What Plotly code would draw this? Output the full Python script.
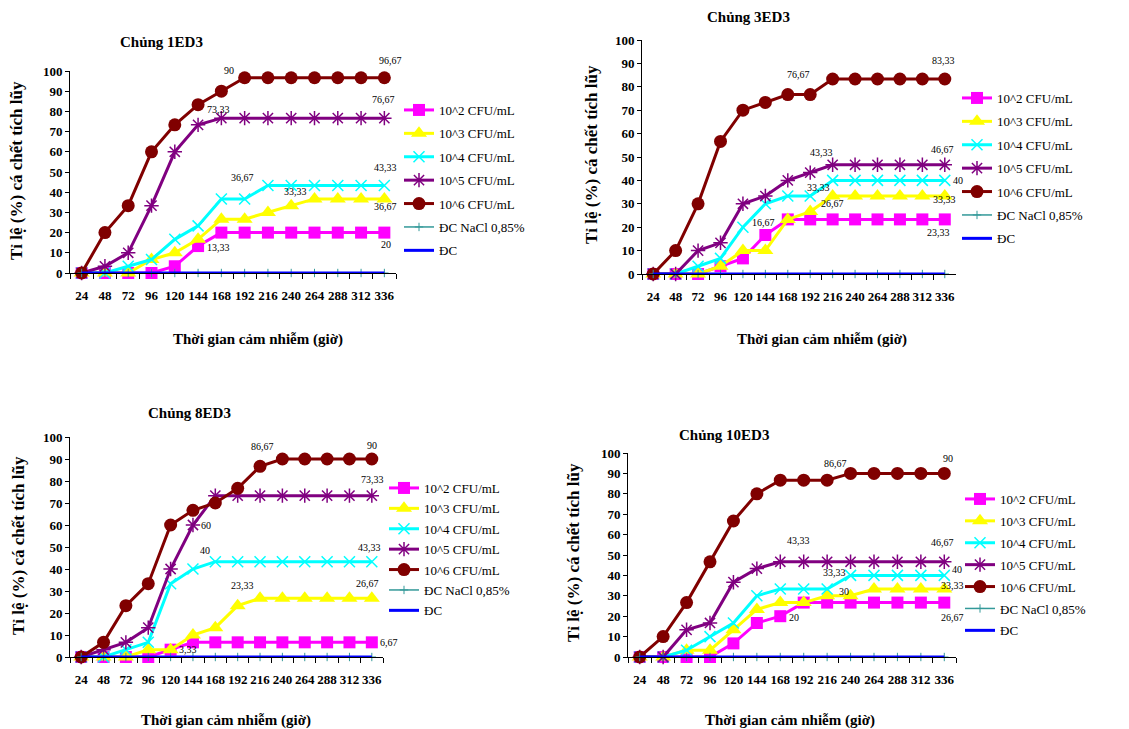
import plotly.graph_objects as go

# ---------------- data ----------------
hours = [24, 48, 72, 96, 120, 144, 168, 192, 216, 240, 264, 288, 312, 336]
x_labels = [str(h) for h in hours]

series_names = ["10^2 CFU/mL", "10^3 CFU/mL", "10^4 CFU/mL", "10^5 CFU/mL",
                "10^6 CFU/mL", "ĐC NaCl 0,85%", "ĐC"]

# Chủng 1ED3
s1_e2 = [0, 0, 0, 0, 3.33, 13.33, 20, 20, 20, 20, 20, 20, 20, 20]
s1_e3 = [0, 0, 0, 6.67, 10, 16.67, 26.67, 26.67, 30, 33.33, 36.67, 36.67, 36.67, 36.67]
s1_e4 = [0, 0, 3.33, 6.67, 16.67, 23.33, 36.67, 36.67, 43.33, 43.33, 43.33, 43.33, 43.33, 43.33]
s1_e5 = [0, 3.33, 10, 33.33, 60, 73.33, 76.67, 76.67, 76.67, 76.67, 76.67, 76.67, 76.67, 76.67]
s1_e6 = [0, 20, 33.33, 60, 73.33, 83.33, 90, 96.67, 96.67, 96.67, 96.67, 96.67, 96.67, 96.67]
s1_nacl = [0] * 14
s1_dc = [0] * 14

# Chủng 3ED3
s3_e2 = [0, 0, 0, 3.33, 6.67, 16.67, 23.33, 23.33, 23.33, 23.33, 23.33, 23.33, 23.33, 23.33]
s3_e3 = [0, 0, 0, 3.33, 10, 10, 23.33, 26.67, 33.33, 33.33, 33.33, 33.33, 33.33, 33.33]
s3_e4 = [0, 0, 3.33, 6.67, 20, 30, 33.33, 33.33, 40, 40, 40, 40, 40, 40]
s3_e5 = [0, 0, 10, 13.33, 30, 33.33, 40, 43.33, 46.67, 46.67, 46.67, 46.67, 46.67, 46.67]
s3_e6 = [0, 10, 30, 56.67, 70, 73.33, 76.67, 76.67, 83.33, 83.33, 83.33, 83.33, 83.33, 83.33]
s3_nacl = [0] * 14
s3_dc = [0] * 14

# Chủng 8ED3
s8_e2 = [0, 0, 0, 0, 3.33, 6.67, 6.67, 6.67, 6.67, 6.67, 6.67, 6.67, 6.67, 6.67]
s8_e3 = [0, 0, 0, 3.33, 3.33, 10, 13.33, 23.33, 26.67, 26.67, 26.67, 26.67, 26.67, 26.67]
s8_e4 = [0, 0, 3.33, 6.67, 33.33, 40, 43.33, 43.33, 43.33, 43.33, 43.33, 43.33, 43.33, 43.33]
s8_e5 = [0, 3.33, 6.67, 13.33, 40, 60, 73.33, 73.33, 73.33, 73.33, 73.33, 73.33, 73.33, 73.33]
s8_e6 = [0, 6.67, 23.33, 33.33, 60, 66.67, 70, 76.67, 86.67, 90, 90, 90, 90, 90]
s8_nacl = [0] * 14
s8_dc = [0] * 14

# Chủng 10ED3
s10_e2 = [0, 0, 0, 0, 6.67, 16.67, 20, 26.67, 26.67, 26.67, 26.67, 26.67, 26.67, 26.67]
s10_e3 = [0, 0, 3.33, 3.33, 13.33, 23.33, 26.67, 26.67, 30, 30, 33.33, 33.33, 33.33, 33.33]
s10_e4 = [0, 0, 3.33, 10, 16.67, 30, 33.33, 33.33, 33.33, 40, 40, 40, 40, 40]
s10_e5 = [0, 0, 13.33, 16.67, 36.67, 43.33, 46.67, 46.67, 46.67, 46.67, 46.67, 46.67, 46.67, 46.67]
s10_e6 = [0, 10, 26.67, 46.67, 66.67, 80, 86.67, 86.67, 86.67, 90, 90, 90, 90, 90]
s10_nacl = [0] * 14
s10_dc = [0] * 14

panel_titles = ["Chủng 1ED3", "Chủng 3ED3", "Chủng 8ED3", "Chủng 10ED3"]
y_title = "Tỉ lệ (%) cá chết tích lũy"
x_title = "Thời gian cảm nhiễm (giờ)"

panel_series = [
    [s1_e2, s1_e3, s1_e4, s1_e5, s1_e6, s1_nacl, s1_dc],
    [s3_e2, s3_e3, s3_e4, s3_e5, s3_e6, s3_nacl, s3_dc],
    [s8_e2, s8_e3, s8_e4, s8_e5, s8_e6, s8_nacl, s8_dc],
    [s10_e2, s10_e3, s10_e4, s10_e5, s10_e6, s10_nacl, s10_dc],
]

# data labels: (series index, hour) per panel
panel_labels = [
    [(4, 168), (4, 336), (3, 144), (3, 336), (2, 168), (2, 336), (1, 240), (1, 336), (0, 144), (0, 336)],
    [(4, 336), (4, 168), (3, 192), (3, 336), (2, 336), (2, 192), (1, 192), (1, 336), (0, 144), (0, 336)],
    [(4, 216), (4, 336), (3, 336), (3, 144), (2, 144), (2, 336), (1, 192), (1, 336), (0, 120), (0, 336)],
    [(4, 216), (4, 336), (3, 144), (3, 336), (2, 216), (2, 336), (1, 240), (1, 336), (0, 168), (0, 336)],
]

# ---------------- styling / layout ----------------
W, H = 1129, 729
FONT = "Liberation Serif"

# label pixel offsets (dx right, dy down), same order as panel_labels
label_offsets = [
    [(8, -21), (6, -17), (20, -15), (-1, -19), (21, -21), (1, -18), (4, -14), (1, 8), (20, 1), (2, 12)],
    [(-1, -19), (11, -20), (11, -20), (-2, -15), (13, 0), (8, -9), (22, -8), (0, 3), (-2, -12), (-6, 13)],
    [(2, -20), (0, -14), (1, -16), (13, 0), (12, -19), (-2, -14), (5, -20), (-4, -15), (17, 0), (17, 0)],
    [(8, -17), (4, -15), (42, -28), (-2, -19), (7, -17), (13, -6), (-7, -4), (8, -4), (14, 1), (8, 15)],
]

# plot-area boxes in pixels: (x0, x1, ytop(100), ybottom(0))
boxes = [(70, 396, 71, 273), (642, 956, 40, 274), (70, 383, 437, 657), (628, 956, 453, 657)]
title_pos = [(161, 42), (748, 17), (189, 413), (724, 435)]
ytitle_pos = [(17, 171), (592, 155), (18, 546), (573, 553)]
xtitle_pos = [(258, 339), (822, 339), (226, 720), (790, 720)]
legend_pos = [(399, 95), (957, 83), (384, 473), (960, 484)]
legend_gap = [3.5, 3.5, 0.5, 2]

styles = [
    dict(color="#FF00FF", marker=dict(symbol="square", size=12, color="#FF00FF"), lw=3),
    dict(color="#FFFF00", marker=dict(symbol="triangle-up", size=14, color="#FFFF00"), lw=3),
    dict(color="#00FFFF", marker=dict(symbol="x-thin", size=11, color="#00FFFF",
                                      line=dict(width=1.5, color="#00FFFF")), lw=3),
    dict(color="#800080", marker=dict(symbol="asterisk", size=12, color="#800080",
                                      line=dict(width=1.5, color="#800080")), lw=3),
    dict(color="#800000", marker=dict(symbol="circle", size=13, color="#800000"), lw=3),
    dict(color="#339999", marker=dict(symbol="cross-thin", size=6, color="#339999",
                                      line=dict(width=1, color="#339999")), lw=1.5),
    dict(color="#0000FF", marker=None, lw=3),
]


def px_x(v):
    return v / W


def px_y(v):
    return 1 - v / H


fig = go.Figure()
annotations = []
layout = {}

for p in range(4):
    sfx = "" if p == 0 else str(p + 1)
    xa, ya = "x" + sfx, "y" + sfx
    leg = "legend" + sfx
    for i, (name, vals) in enumerate(zip(series_names, panel_series[p])):
        st = styles[i]
        kw = dict(mode="lines+markers", marker=st["marker"]) if st["marker"] else dict(mode="lines")
        fig.add_trace(go.Scatter(
            x=x_labels, y=vals, name=name, xaxis=xa, yaxis=ya,
            line=dict(color=st["color"], width=st["lw"]),
            legend=leg, legendgroup=f"p{p}s{i}", cliponaxis=False, showlegend=True,
            **kw))

    x0, x1, yt, yb = boxes[p]
    layout["xaxis" + sfx] = dict(
        domain=[px_x(x0), px_x(x1)], anchor=ya, type="category",
        range=[-0.5, 13.5], showline=True, linecolor="black", linewidth=1,
        ticks="outside", ticklen=5, tickcolor="black", tickson="boundaries",
        tickangle=0, automargin=False,
        tickfont=dict(family=FONT, size=13, color="black", weight="bold"),
        showgrid=False, zeroline=False, ticklabelstandoff=10, fixedrange=True)
    layout["yaxis" + sfx] = dict(
        domain=[px_y(yb), px_y(yt)], anchor=xa, range=[0, 100], dtick=10,
        showline=True, linecolor="black", linewidth=1, ticks="outside", ticklen=4,
        tickcolor="black", tickfont=dict(family=FONT, size=13, color="black", weight="bold"),
        showgrid=False, zeroline=False, fixedrange=True, automargin=False)
    lx, ly = legend_pos[p]
    layout[leg] = dict(
        x=px_x(lx), y=px_y(ly), xanchor="left", yanchor="top",
        font=dict(family=FONT, size=13, color="black"), bgcolor="rgba(0,0,0,0)",
        traceorder="grouped", tracegroupgap=legend_gap[p], itemclick=False)

    common = dict(xref="paper", yref="paper", showarrow=False, xanchor="center", yanchor="middle")
    tx, ty = title_pos[p]
    annotations.append(dict(text="<b>" + panel_titles[p] + "</b>", x=px_x(tx), y=px_y(ty),
                            font=dict(family=FONT, size=15, color="black"), **common))
    tx, ty = ytitle_pos[p]
    annotations.append(dict(text="<b>" + y_title + "</b>", x=px_x(tx), y=px_y(ty), textangle=-90,
                            font=dict(family=FONT, size=17, color="black"), **common))
    tx, ty = xtitle_pos[p]
    annotations.append(dict(text="<b>" + x_title + "</b>", x=px_x(tx), y=px_y(ty),
                            font=dict(family=FONT, size=15, color="black"), **common))

    for (si, hr), (dx, dy) in zip(panel_labels[p], label_offsets[p]):
        k = hours.index(hr)
        v = panel_series[p][si][k]
        txt = ("%.2f" % v).rstrip("0").rstrip(".").replace(".", ",")
        annotations.append(dict(text=txt, x=k, y=v, xref=xa, yref=ya,
                                xshift=dx, yshift=-dy, showarrow=False,
                                xanchor="center", yanchor="middle",
                                font=dict(family=FONT, size=10, color="black")))

fig.update_layout(
    width=W, height=H, margin=dict(l=0, r=0, t=0, b=0, pad=0, autoexpand=False),
    paper_bgcolor="white", plot_bgcolor="white",
    annotations=annotations, **layout)

fig.write_html("out.html", config={"displayModeBar": False})
